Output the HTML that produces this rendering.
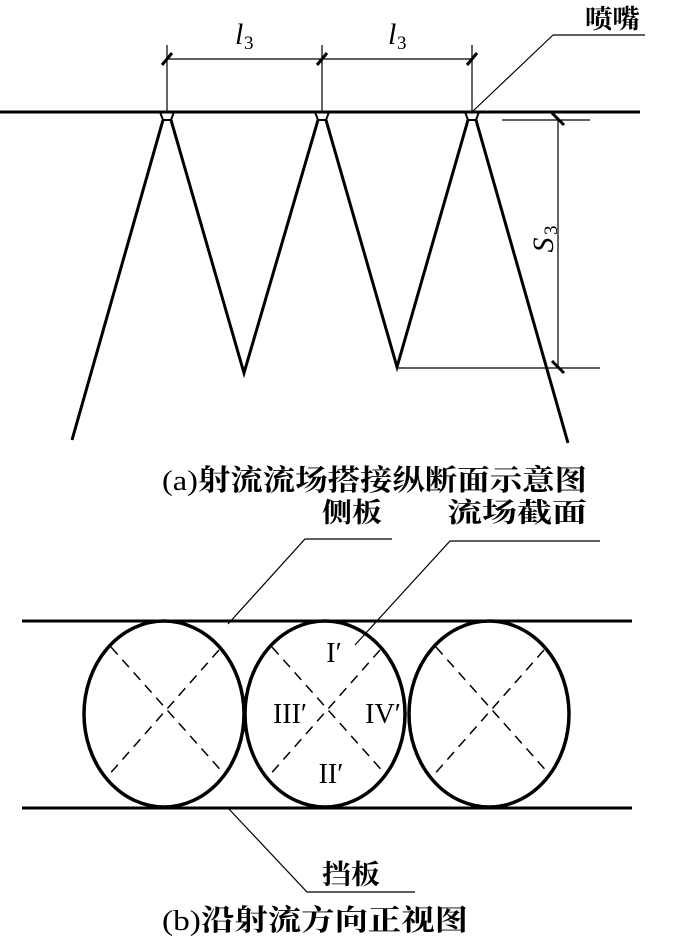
<!DOCTYPE html>
<html><head><meta charset="utf-8"><style>
html,body{margin:0;padding:0;background:#fff;}
svg{display:block;}
text{font-family:"Liberation Serif","Noto Serif CJK SC",serif;fill:#000;}
.b{font-weight:bold;}
</style></head><body>
<svg width="700" height="942" viewBox="0 0 700 942" xmlns="http://www.w3.org/2000/svg">
<g stroke="#000" fill="none">
<line x1="0" y1="112" x2="640" y2="112" stroke-width="3"/>
<g stroke-width="2">
<path d="M160,112 L163,120 L171,120 L174,112"/>
<path d="M315,112 L318,120 L326,120 L329,112"/>
<path d="M465,112 L468,120 L476,120 L479,112"/>
</g>
<g stroke-width="3">
<line x1="163" y1="120" x2="72" y2="440"/>
<polyline points="171,120 244,373 318,120"/>
<polyline points="326,120 397,367 468,120"/>
<line x1="476" y1="120" x2="568" y2="443"/>
</g>
<g stroke-width="1.2">
<line x1="167" y1="45" x2="167" y2="112"/>
<line x1="322" y1="45" x2="322" y2="112"/>
<line x1="472" y1="45" x2="472" y2="112"/>
<line x1="167" y1="59" x2="472" y2="59"/>
<line x1="472" y1="112" x2="553" y2="35"/>
<line x1="553" y1="35" x2="645" y2="35"/>
<line x1="502" y1="120" x2="590" y2="120"/>
<line x1="397" y1="368" x2="600" y2="368"/>
<line x1="558" y1="120" x2="558" y2="368"/>
</g>
<g stroke-width="3">
<line x1="162" y1="65" x2="172" y2="53"/>
<line x1="317" y1="65" x2="327" y2="53"/>
<line x1="467" y1="65" x2="477" y2="53"/>
<line x1="552" y1="113" x2="564" y2="125"/>
<line x1="552" y1="361" x2="564" y2="373"/>
</g>
<line x1="22" y1="621" x2="632" y2="621" stroke-width="3"/>
<line x1="22" y1="808" x2="632" y2="808" stroke-width="3"/>
<g stroke-width="3.5">
<ellipse cx="164" cy="714" rx="80" ry="93"/>
<ellipse cx="325" cy="714" rx="80" ry="93"/>
<ellipse cx="489" cy="714" rx="80" ry="93"/>
</g>
<g stroke-width="1.5" stroke-dasharray="10,7">
<line x1="111" y1="647" x2="225" y2="775"/>
<line x1="219" y1="650" x2="107" y2="777"/>
<line x1="272" y1="647" x2="386" y2="775"/>
<line x1="380" y1="650" x2="268" y2="777"/>
<line x1="436" y1="647" x2="550" y2="775"/>
<line x1="544" y1="650" x2="432" y2="777"/>
</g>
<g stroke-width="1.2">
<polyline points="228,624 305,539 392,539"/>
<polyline points="355,645 450,541 600,541"/>
<polyline points="228,808 307,892 415,892"/>
</g>
</g>
<text class="b" x="585" y="28" font-size="26" textLength="55" lengthAdjust="spacingAndGlyphs">喷嘴</text>
<text x="235" y="44" font-size="30" font-style="italic">l</text><text x="244" y="49" font-size="19">3</text>
<text x="388" y="44" font-size="30" font-style="italic">l</text><text x="397" y="49" font-size="19">3</text>
<g transform="translate(553,245) rotate(-90)"><text x="0" y="0" font-size="30" font-style="italic" text-anchor="middle">S</text><text x="10" y="4" font-size="19">3</text></g>
<text x="162" y="490" font-size="29" textLength="425" lengthAdjust="spacingAndGlyphs"><tspan font-weight="normal">(a)</tspan><tspan font-weight="bold">射流流场搭接纵断面示意图</tspan></text>
<text class="b" x="322" y="522" font-size="27" textLength="60" lengthAdjust="spacingAndGlyphs">侧板</text>
<text class="b" x="447" y="522" font-size="27" textLength="140" lengthAdjust="spacingAndGlyphs">流场截面</text>
<text class="b" x="322" y="884" font-size="27" textLength="58" lengthAdjust="spacingAndGlyphs">挡板</text>
<text x="162" y="930" font-size="29" textLength="306" lengthAdjust="spacingAndGlyphs"><tspan font-weight="normal">(b)</tspan><tspan font-weight="bold">沿射流方向正视图</tspan></text>
<text x="334" y="662" font-size="28" text-anchor="middle">I′</text>
<text x="290" y="723" font-size="28" text-anchor="middle">III′</text>
<text x="383" y="723" font-size="28" text-anchor="middle">IV′</text>
<text x="331" y="783" font-size="28" text-anchor="middle">II′</text>
</svg>
</body></html>
